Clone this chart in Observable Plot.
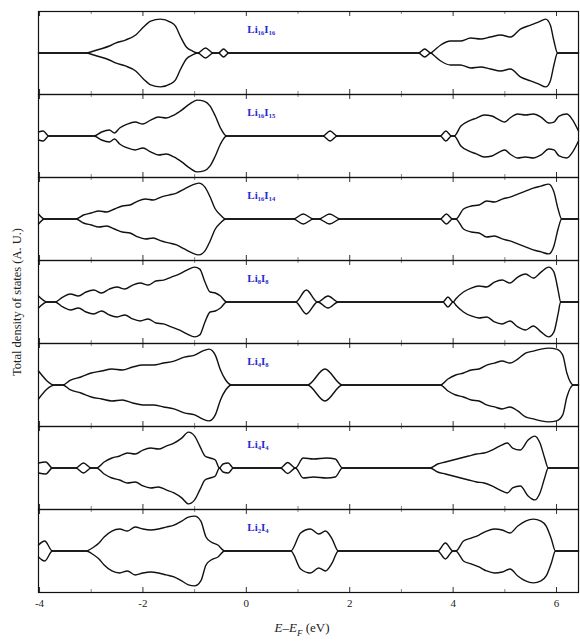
<!DOCTYPE html>
<html><head><meta charset="utf-8">
<script src="https://cdn.jsdelivr.net/npm/d3@7"></script>
<script src="https://cdn.jsdelivr.net/npm/@observablehq/plot@0.6"></script>
<style>
body{margin:0;background:#fff;}
#wrap{position:relative;width:580px;height:642px;font-family:"Liberation Serif","DejaVu Serif",serif;color:#222;}
#ylab{position:absolute;left:17px;top:302px;transform:translate(-50%,-50%) rotate(-90deg);white-space:nowrap;font-size:12.5px;}
#xlab{position:absolute;left:302px;top:620px;transform:translateX(-50%);font-size:13px;white-space:nowrap;}
#xlab sub{font-size:9px;}
svg{position:absolute;left:0;top:0;}
</style></head>
<body><div id="wrap"><div id="ylab">Total density of states (A. U.)</div><div id="xlab"><i>E</i>–<i>E</i><sub><i>F</i></sub> (eV)</div></div>
<script>
const labels = ["Li₁₆I₁₆","Li₁₆I₁₅","Li₁₆I₁₄","Li₈I₈","Li₄I₈","Li₄I₄","Li₂I₄"];
const majorTicks = [-4,-2,0,2,4,6];
const minorTicks = [-3,-1,1,3,5];

// [energy (eV), DOS amplitude (A.U.)] — spin-up drawn above, spin-down mirrored below
const dos1 = [[-4.02,0],[-3.11,0],[-2.95,2],[-2.82,4],[-2.65,7],[-2.53,10],[-2.34,13],[-2.14,18],[-1.99,26],[-1.85,32],[-1.66,34],[-1.47,31],[-1.37,27],[-1.27,16],[-1.16,6],[-1.04,2],[-0.94,0],[-0.79,5],[-0.64,0],[-0.54,0],[-0.44,4],[-0.34,0],
  [3.33,0],[3.45,4],[3.57,0],[3.62,2],[3.76,8],[3.95,12],[4.14,12],[4.34,15],[4.53,14],[4.72,16],[4.92,18],[5.11,16],[5.3,24],[5.5,28],[5.65,31],[5.79,34],[5.88,28],[5.95,12],[6.02,0],[6.425,0]];
const dos2 = [[-4.02,4],[-3.93,5],[-3.82,0],[-2.95,0],[-2.8,4],[-2.65,6],[-2.55,3],[-2.45,8],[-2.3,12],[-2.15,14],[-2.0,12],[-1.85,16],[-1.7,19],[-1.55,18],[-1.4,21],[-1.25,26],[-1.1,32],[-0.95,36],[-0.82,35],[-0.7,30],[-0.6,20],[-0.5,8],[-0.38,0],
  [1.48,0],[1.62,5],[1.76,0],[3.75,0],[3.86,5],[3.97,0],[4.02,0],[4.15,10],[4.3,15],[4.45,18],[4.6,21],[4.75,20],[4.9,16],[5.0,14],[5.1,18],[5.25,22],[5.4,21],[5.55,22],[5.7,19],[5.85,13],[5.95,14],[6.05,20],[6.2,22],[6.3,17],[6.425,5]];
const dos3 = [[-4.02,5],[-3.9,0],[-3.3,0],[-3.15,4],[-3.0,6],[-2.85,8],[-2.7,7],[-2.55,10],[-2.4,13],[-2.25,14],[-2.1,18],[-1.95,20],[-1.8,19],[-1.65,22],[-1.5,24],[-1.35,26],[-1.2,30],[-1.05,34],[-0.92,36],[-0.8,32],[-0.7,22],[-0.6,10],[-0.5,4],[-0.4,0],
  [0.91,0],[1.1,5],[1.3,0],[1.4,0],[1.61,5],[1.82,0],[3.75,0],[3.87,5],[3.99,0],[4.05,0],[4.2,10],[4.35,13],[4.5,14],[4.65,18],[4.8,17],[4.95,20],[5.1,22],[5.25,25],[5.4,28],[5.55,31],[5.7,33],[5.85,35],[5.95,27],[6.03,10],[6.1,0],[6.425,0]];
const dos4 = [[-4.02,6],[-3.85,0],[-3.7,0],[-3.55,5],[-3.4,8],[-3.25,6],[-3.1,10],[-2.95,12],[-2.8,9],[-2.65,13],[-2.5,15],[-2.35,13],[-2.2,17],[-2.05,19],[-1.9,17],[-1.75,21],[-1.6,22],[-1.45,25],[-1.3,28],[-1.15,32],[-1.0,35],[-0.9,33],[-0.8,20],[-0.7,10],[-0.6,9],[-0.5,6],[-0.38,0],
  [0.95,0],[1.16,12],[1.38,0],[1.58,6],[1.78,0],[3.8,0],[3.9,5],[4.0,0],[4.05,3],[4.2,10],[4.35,14],[4.5,16],[4.65,15],[4.8,20],[4.95,22],[5.1,19],[5.25,25],[5.4,28],[5.55,24],[5.7,30],[5.85,35],[5.95,30],[6.03,12],[6.08,0],[6.425,0]];
const dos5 = [[-4.02,14],[-3.7,0],[-3.55,0],[-3.4,5],[-3.2,8],[-3.0,12],[-2.8,14],[-2.6,16],[-2.4,15],[-2.2,18],[-2.0,20],[-1.8,20],[-1.6,22],[-1.4,24],[-1.2,28],[-1.0,30],[-0.85,34],[-0.72,36],[-0.6,30],[-0.5,15],[-0.4,5],[-0.28,0],
  [1.18,0],[1.52,16],[1.86,0],[3.75,0],[3.9,6],[4.05,10],[4.2,12],[4.35,15],[4.5,16],[4.65,20],[4.8,22],[4.95,24],[5.1,22],[5.25,26],[5.4,32],[5.55,34],[5.7,36],[5.85,37],[6.0,36],[6.12,30],[6.2,12],[6.33,0],[6.425,0]];
const dos6 = [[-4.02,5],[-3.88,6],[-3.75,0],[-3.3,0],[-3.15,5],[-3.0,0],[-2.9,0],[-2.75,6],[-2.6,10],[-2.45,12],[-2.3,15],[-2.15,14],[-2.0,18],[-1.85,20],[-1.7,19],[-1.55,22],[-1.4,25],[-1.25,30],[-1.12,36],[-1.0,32],[-0.9,22],[-0.8,12],[-0.7,10],[-0.6,8],[-0.52,0],[-0.45,4],[-0.35,5],[-0.25,0],
  [0.66,0],[0.8,5.5],[0.95,0],[1.1,10],[1.3,9],[1.55,10],[1.72,9],[1.86,0],[3.55,0],[3.7,4],[3.85,6],[4.0,8],[4.15,10],[4.3,12],[4.45,14],[4.6,15],[4.75,18],[4.9,22],[5.05,25],[5.15,20],[5.3,18],[5.45,28],[5.58,32],[5.68,25],[5.77,10],[5.84,0],[6.425,0]];
const dos7 = [[-4.02,6],[-3.9,10],[-3.75,0],[-3.1,0],[-2.95,4],[-2.85,8],[-2.75,14],[-2.6,20],[-2.45,22],[-2.3,20],[-2.15,24],[-2.0,22],[-1.85,21],[-1.7,22],[-1.55,24],[-1.4,26],[-1.25,30],[-1.12,34],[-1.0,35],[-0.88,30],[-0.78,14],[-0.68,9],[-0.55,6],[-0.42,0],
  [0.86,0],[1.05,18],[1.24,22],[1.4,17],[1.53,20],[1.66,12],[1.78,0],[3.7,0],[3.85,8],[4.0,0],[4.05,0],[4.2,10],[4.35,13],[4.5,16],[4.65,20],[4.8,22],[4.95,21],[5.1,18],[5.25,25],[5.4,30],[5.55,32],[5.7,30],[5.8,25],[5.9,12],[5.98,0],[6.425,0]];

const panels = [dos1,dos2,dos3,dos4,dos5,dos6,dos7];
const rows = panels.flatMap((arr,i)=>[1,-1].flatMap(s=>arr.map(([e,a])=>({panel:labels[i],E:e,v:s*a,side:s}))));
const H = 41.6;

const chart = Plot.plot({
  width:580, height:642, marginLeft:38, marginRight:2, marginTop:10, marginBottom:49,
  style:{fontFamily:"'Liberation Serif','DejaVu Serif',serif", fontSize:"11px", color:"#222", background:"transparent"},
  x:{domain:[-4.02,6.425], ticks:majorTicks, tickSize:0, tickPadding:7, tickFormat:d=> d<0 ? "-"+(-d) : String(d), label:null},
  y:{domain:[-H,H], axis:null},
  fy:{domain:labels, padding:0, axis:null},
  marks:[
    Plot.ruleX(majorTicks,{x:d=>d,y1:H,y2:H-5,stroke:"#333",strokeWidth:1}),
    Plot.ruleX(majorTicks,{x:d=>d,y1:-H,y2:-H+5,stroke:"#333",strokeWidth:1}),
    Plot.ruleX(minorTicks,{x:d=>d,y1:H,y2:H-3,stroke:"#666",strokeWidth:0.8}),
    Plot.ruleX(minorTicks,{x:d=>d,y1:-H,y2:-H+3,stroke:"#666",strokeWidth:0.8}),
    Plot.line(rows,{x:"E",y:"v",z:"side",fy:"panel",curve:"monotone-x",stroke:"#111",strokeWidth:1.4}),
    Plot.text(labels,{fy:d=>d,x:0.02,y:24,text:d=>d,textAnchor:"start",fill:"#2a2ad0",fontWeight:"bold",fontSize:11}),
    Plot.frame({stroke:"#111",strokeWidth:1.2})
  ]
});
document.getElementById("wrap").prepend(chart);
</script>
</body></html>
